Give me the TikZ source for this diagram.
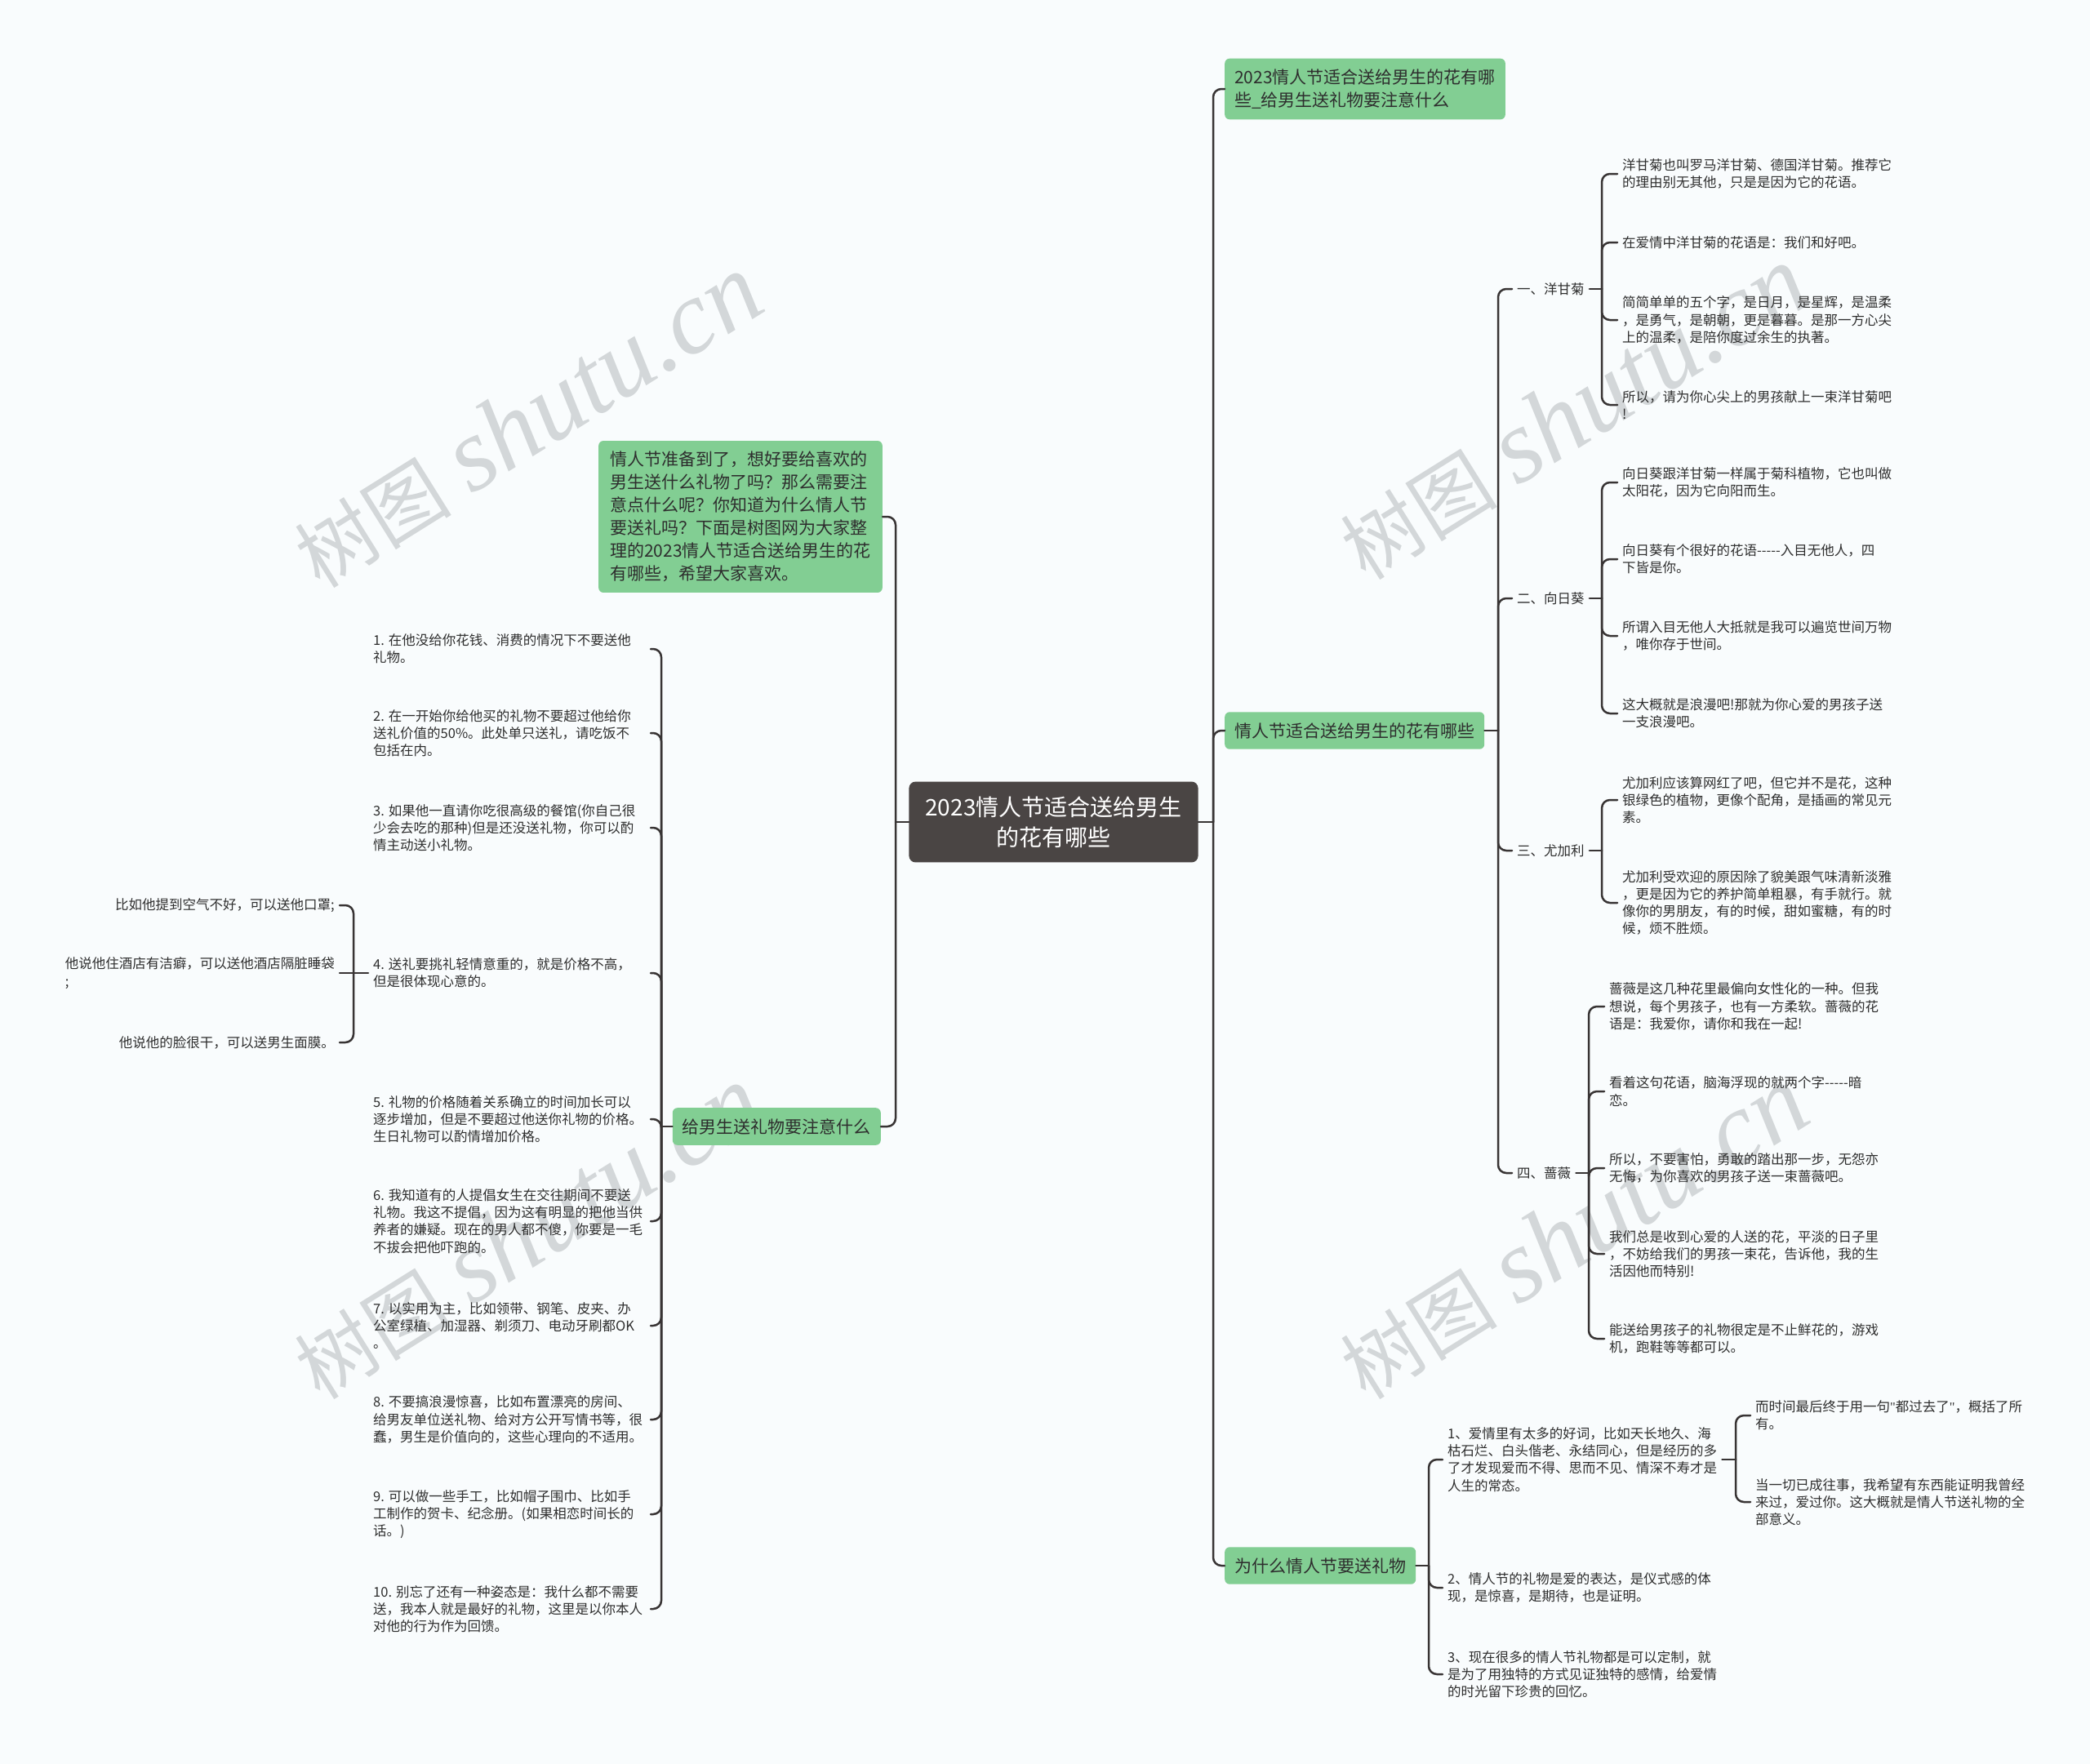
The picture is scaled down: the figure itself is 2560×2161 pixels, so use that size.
\documentclass[tikz,border=0pt]{standalone}
\usepackage{fontspec}
\setmainfont{Noto Sans CJK SC}
\newfontfamily\wmlatin{Liberation Serif}
\newfontfamily\wmcjk{Noto Sans CJK SC}
\definecolor{bgc}{HTML}{F9FCFD}
\definecolor{greenc}{HTML}{82CE93}
\definecolor{darkc}{HTML}{4A4544}
\definecolor{linec}{HTML}{383434}
\definecolor{textc}{HTML}{2E2E2E}
\definecolor{wmc}{HTML}{D3D7D9}
\tikzset{
  conn/.style={draw=linec, line width=2.5pt, rounded corners=10pt, line cap=round},
  gnode/.style={fill=greenc, rounded corners=6pt, inner xsep=12pt, inner ysep=13pt, align=left, font=\fontsize{21}{28}\selectfont, text=textc},
  cnode/.style={fill=darkc, rounded corners=8pt, inner xsep=20pt, inner ysep=18pt, align=center, font=\fontsize{28}{37}\selectfont, text=white},
  leaf/.style={inner xsep=6pt, inner ysep=4pt, align=left, font=\fontsize{16.5}{21.2}\selectfont, text=textc},
  wmark/.style={text=wmc, rotate=32, inner sep=0pt}
}
\newcommand{\wmtext}{{\wmcjk\fontsize{96}{96}\selectfont 树图}\hspace{26pt}{\wmlatin\itshape\fontsize{128}{128}\selectfont shutu.cn}}
\begin{document}
\begin{tikzpicture}[x=1pt,y=-1pt]
\fill[bgc] (0,0) rectangle (2560,2161);
\useasboundingbox (0,0) rectangle (2560,2161);
% watermarks
\node[wmark] (wm1) at (646,516) {\wmtext};
\node[wmark] (wm2) at (1927,506) {\wmtext};
\node[wmark] (wm3) at (646,1510) {\wmtext};
\node[wmark] (wm4) at (1927,1510) {\wmtext};

% root
\node[cnode] (root) at (1290.5,1007) {2023情人节适合送给男生\\的花有哪些};

% right main branches
\node[gnode, anchor=west] (a) at (1500,109) {2023情人节适合送给男生的花有哪\\些\_给男生送礼物要注意什么};
\node[gnode, anchor=west] (b) at (1500,895) {情人节适合送给男生的花有哪些};
\node[gnode, anchor=west] (c) at (1500,1918) {为什么情人节要送礼物};

% left main branches
\node[gnode, anchor=east, inner xsep=14pt] (intro) at (1081,633) {情人节准备到了，想好要给喜欢的\\男生送什么礼物了吗？那么需要注\\意点什么呢？你知道为什么情人节\\要送礼吗？下面是树图网为大家整\\理的2023情人节适合送给男生的花\\有哪些，希望大家喜欢。};
\node[gnode, anchor=east] (gift) at (1079,1380) {给男生送礼物要注意什么};

% categories
\node[leaf, anchor=west] (k1) at (1852,354) {一、洋甘菊};
\node[leaf, anchor=west] (k2) at (1852,733) {二、向日葵};
\node[leaf, anchor=west] (k3) at (1852,1042) {三、尤加利};
\node[leaf, anchor=west] (k4) at (1852,1437) {四、蔷薇};

% k1 leaves
\node[leaf, anchor=west] (k1a) at (1981,213) {洋甘菊也叫罗马洋甘菊、德国洋甘菊。推荐它\\的理由别无其他，只是是因为它的花语。};
\node[leaf, anchor=west] (k1b) at (1981,297) {在爱情中洋甘菊的花语是：我们和好吧。};
\node[leaf, anchor=west] (k1c) at (1981,392) {简简单单的五个字，是日月，是星辉，是温柔\\，是勇气，是朝朝，更是暮暮。是那一方心尖\\上的温柔，是陪你度过余生的执著。};
\node[leaf, anchor=west] (k1d) at (1981,496) {所以，请为你心尖上的男孩献上一束洋甘菊吧\\!};
% k2 leaves
\node[leaf, anchor=west] (k2a) at (1981,591) {向日葵跟洋甘菊一样属于菊科植物，它也叫做\\太阳花，因为它向阳而生。};
\node[leaf, anchor=west] (k2b) at (1981,685) {向日葵有个很好的花语-{}-{}-{}-{}-入目无他人，四\\下皆是你。};
\node[leaf, anchor=west] (k2c) at (1981,779) {所谓入目无他人大抵就是我可以遍览世间万物\\，唯你存于世间。};
\node[leaf, anchor=west] (k2d) at (1981,874) {这大概就是浪漫吧!那就为你心爱的男孩子送\\一支浪漫吧。};
% k3 leaves
\node[leaf, anchor=west] (k3a) at (1981,980) {尤加利应该算网红了吧，但它并不是花，这种\\银绿色的植物，更像个配角，是插画的常见元\\素。};
\node[leaf, anchor=west] (k3b) at (1981,1106) {尤加利受欢迎的原因除了貌美跟气味清新淡雅\\，更是因为它的养护简单粗暴，有手就行。就\\像你的男朋友，有的时候，甜如蜜糖，有的时\\候，烦不胜烦。};
% k4 leaves
\node[leaf, anchor=west] (k4a) at (1965,1233) {蔷薇是这几种花里最偏向女性化的一种。但我\\想说，每个男孩子，也有一方柔软。蔷薇的花\\语是：我爱你，请你和我在一起!};
\node[leaf, anchor=west] (k4b) at (1965,1337) {看着这句花语，脑海浮现的就两个字-{}-{}-{}-{}-暗\\恋。};
\node[leaf, anchor=west] (k4c) at (1965,1431) {所以，不要害怕，勇敢的踏出那一步，无怨亦\\无悔，为你喜欢的男孩子送一束蔷薇吧。};
\node[leaf, anchor=west] (k4d) at (1965,1536) {我们总是收到心爱的人送的花，平淡的日子里\\，不妨给我们的男孩一束花，告诉他，我的生\\活因他而特别!};
\node[leaf, anchor=west] (k4e) at (1965,1640) {能送给男孩子的礼物很定是不止鲜花的，游戏\\机，跑鞋等等都可以。};

% c leaves
\node[leaf, anchor=west] (q1) at (1767,1788) {1、爱情里有太多的好词，比如天长地久、海\\枯石烂、白头偕老、永结同心，但是经历的多\\了才发现爱而不得、思而不见、情深不寿才是\\人生的常态。};
\node[leaf, anchor=west] (q2) at (1767,1945) {2、情人节的礼物是爱的表达，是仪式感的体\\现，是惊喜，是期待，也是证明。};
\node[leaf, anchor=west] (q3) at (1767,2051) {3、现在很多的情人节礼物都是可以定制，就\\是为了用独特的方式见证独特的感情，给爱情\\的时光留下珍贵的回忆。};
\node[leaf, anchor=west] (r1) at (2144,1734) {而时间最后终于用一句{\wmlatin"}都过去了{\wmlatin"}，概括了所\\有。};
\node[leaf, anchor=west] (r2) at (2144,1840) {当一切已成往事，我希望有东西能证明我曾经\\来过，爱过你。这大概就是情人节送礼物的全\\部意义。};

% left leaves
\node[leaf, anchor=west] (l1) at (451,795) {1. 在他没给你花钱、消费的情况下不要送他\\礼物。};
\node[leaf, anchor=west] (l2) at (451,898) {2. 在一开始你给他买的礼物不要超过他给你\\送礼价值的50\%。此处单只送礼，请吃饭不\\包括在内。};
\node[leaf, anchor=west] (l3) at (451,1014) {3. 如果他一直请你吃很高级的餐馆(你自己很\\少会去吃的那种)但是还没送礼物，你可以酌\\情主动送小礼物。};
\node[leaf, anchor=west] (l4) at (451,1192) {4. 送礼要挑礼轻情意重的，就是价格不高，\\但是很体现心意的。};
\node[leaf, anchor=west] (l5) at (451,1371) {5. 礼物的价格随着关系确立的时间加长可以\\逐步增加，但是不要超过他送你礼物的价格。\\生日礼物可以酌情增加价格。};
\node[leaf, anchor=west] (l6) at (451,1496) {6. 我知道有的人提倡女生在交往期间不要送\\礼物。我这不提倡，因为这有明显的把他当供\\养者的嫌疑。现在的男人都不傻，你要是一毛\\不拔会把他吓跑的。};
\node[leaf, anchor=west] (l7) at (451,1624) {7. 以实用为主，比如领带、钢笔、皮夹、办\\公室绿植、加湿器、剃须刀、电动牙刷都OK\\。};
\node[leaf, anchor=west] (l8) at (451,1739) {8. 不要搞浪漫惊喜，比如布置漂亮的房间、\\给男友单位送礼物、给对方公开写情书等，很\\蠢，男生是价值向的，这些心理向的不适用。};
\node[leaf, anchor=west] (l9) at (451,1855) {9. 可以做一些手工，比如帽子围巾、比如手\\工制作的贺卡、纪念册。(如果相恋时间长的\\话。)};
\node[leaf, anchor=west] (l10) at (451,1971) {10. 别忘了还有一种姿态是：我什么都不需要\\送，我本人就是最好的礼物，这里是以你本人\\对他的行为作为回馈。};
% sub leaves of l4
\node[leaf, anchor=east] (s1) at (416,1109) {比如他提到空气不好，可以送他口罩;};
\node[leaf, anchor=east] (s2) at (416,1192) {他说他住酒店有洁癖，可以送他酒店隔脏睡袋\\;};
\node[leaf, anchor=east] (s3) at (416,1277) {他说他的脸很干，可以送男生面膜。};

% junction coordinates
\coordinate (jL) at (1097,1007);
\coordinate (jR) at (1486,1007);
\coordinate (jb) at (1835,895);
\coordinate (j1) at (1962,354);
\coordinate (j2) at (1962,733);
\coordinate (j3) at (1962,1042);
\coordinate (j4) at (1946,1437);
\coordinate (jc) at (1750,1918);
\coordinate (jq) at (2126,1788);
\coordinate (jg) at (810,1380);
\coordinate (gend) at (797,1380);
\coordinate (jl4) at (433,1192);

% connectors: root
\draw[conn] (root.west) -- (jL);
\draw[conn] (jL) |- (intro.east);
\draw[conn] (jL) |- (gift.east);
\draw[conn] (root.east) -- (jR);
\draw[conn] (jR) |- (a.west);
\draw[conn] (jR) |- (b.west);
\draw[conn] (jR) |- (c.west);
% b
\draw[conn] (b.east) -- (jb);
\foreach \k in {k1,k2,k3,k4} \draw[conn] (jb) |- (\k.west);
\draw[conn] (k1.east) -- (j1);
\foreach \n in {k1a,k1b,k1c,k1d} \draw[conn] (j1) |- (\n.west);
\draw[conn] (k2.east) -- (j2);
\foreach \n in {k2a,k2b,k2c,k2d} \draw[conn] (j2) |- (\n.west);
\draw[conn] (k3.east) -- (j3);
\foreach \n in {k3a,k3b} \draw[conn] (j3) |- (\n.west);
\draw[conn] (k4.east) -- (j4);
\foreach \n in {k4a,k4b,k4c,k4d,k4e} \draw[conn] (j4) |- (\n.west);
% c
\draw[conn] (c.east) -- (jc);
\foreach \n in {q1,q2,q3} \draw[conn] (jc) |- (\n.west);
\draw[conn] (q1.east) -- (jq);
\foreach \n in {r1,r2} \draw[conn] (jq) |- (\n.west);
% gift
\draw[conn] (gift.west) -- (jg);
\foreach \n in {l1,l2,l3,l4,l5,l6,l7,l8,l9,l10} \draw[conn] (jg) |- (\n.west -| gend);
% l4 subs
\draw[conn] (l4.west) -- (jl4);
\draw[conn] (jl4) |- (s1.east);
\draw[conn] (jl4) -- (s2.east);
\draw[conn] (jl4) |- (s3.east);
\end{tikzpicture}
\end{document}
